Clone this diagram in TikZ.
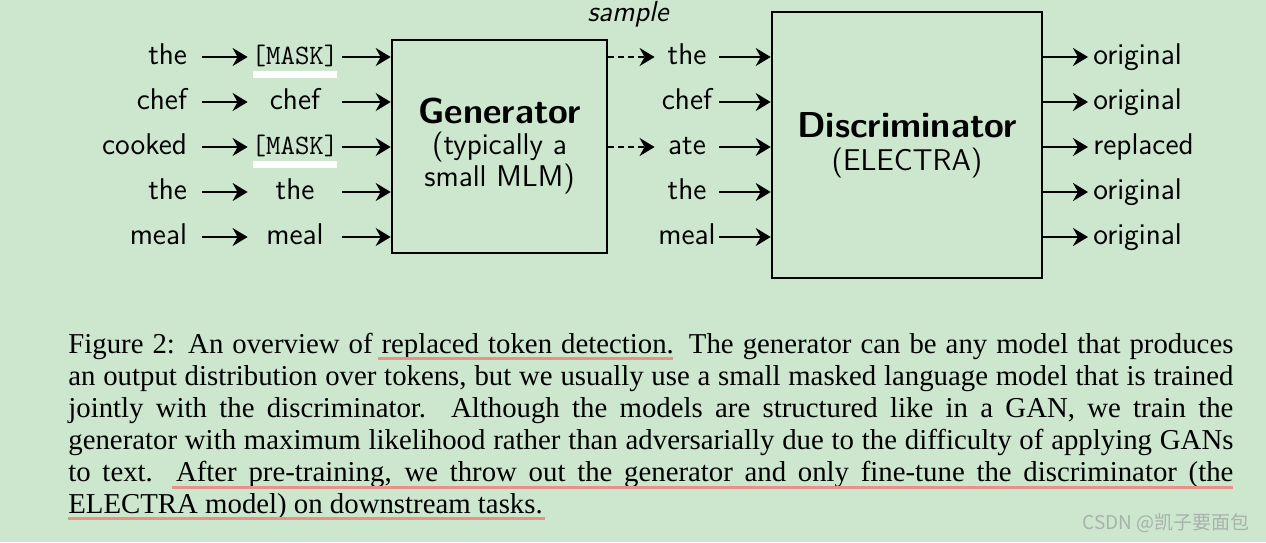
\documentclass[tikz,border=0pt]{standalone}
\usepackage{fontspec}
\usetikzlibrary{arrows.meta,positioning}
\newfontfamily\captionfont{Liberation Serif}
\newfontfamily\markfont{Noto Sans CJK SC}
\definecolor{pagegreen}{RGB}{204,231,206}
\definecolor{markred}{RGB}{232,145,138}
\definecolor{wmgray}{RGB}{168,178,170}
\newcommand\masktok{{\ttfamily\fontsize{14}{16}\selectfont[MASK]}}
\tikzset{
    tok/.style={font=\sffamily\fontsize{15}{18}\selectfont, inner sep=0pt, text height=10.5pt, text depth=3pt},
    intok/.style={tok, text width=45pt, align=right, inner xsep=7.5pt},
    midtok/.style={tok, minimum width=47pt, align=center},
    gentok/.style={tok, minimum width=32pt, align=center},
    outtok/.style={tok, anchor=west, inner xsep=2.5pt},
    model/.style={draw, line width=1.3pt, font=\sffamily\fontsize{15}{13.5}\selectfont, align=center},
    feed/.style={-{Stealth[length=7.5pt,width=9pt,inset=2.5pt]}, line width=1.4pt},
    samp/.style={feed, dash pattern=on 3pt off 2pt},
    capline/.style={font=\captionfont\fontsize{14.4}{16}\selectfont, anchor=base west, inner sep=0pt},
    hilite/.style={draw=markred, line width=1.5pt}
}
\begin{document}
\begin{tikzpicture}[x=0.5pt,y=-0.5pt]
    \useasboundingbox (0,0) rectangle (1266,542);
    \fill[pagegreen] (0,0) rectangle (1266,542);

    % the two models
    \node[model, minimum width=107.5pt, minimum height=106.5pt] (gen) at (499.5,146.5)
        {{\fontsize{18}{18}\selectfont\bfseries Generator}\\[2pt](typically a\\small MLM)};
    \node[model, minimum width=135pt, minimum height=133pt] (disc) at (907,145)
        {{\fontsize{18}{18}\selectfont\bfseries Discriminator}\\[3pt](ELECTRA)};

    % token rows
    \foreach \i/\a/\b/\c/\d in {1/the/\masktok/the/original, 2/chef/chef/chef/original,
        3/cooked/\masktok/ate/replaced, 4/the/the/the/original, 5/meal/meal/meal/original} {
        \pgfmathsetmacro\ry{12+45*\i}
        \node[intok] (in\i) at (142,\ry) {\a};
        \node[midtok] (mid\i) at (295,\ry) {\b};
        \node[gentok] (smp\i) at (687,\ry) {\c};
        \node[outtok] (out\i) at (1088,\ry) {\d};
        \draw[feed] (in\i) -- (mid\i);
        \draw[feed] (mid\i) -- (gen.west |- mid\i);
        \draw[feed] (smp\i) -- (disc.west |- smp\i);
        \draw[feed] (disc.east |- out\i) -- (out\i);
    }
    \draw[samp] (gen.east |- smp1) -- (smp1);
    \draw[samp] (gen.east |- smp3) -- (smp3);
    \node[font=\sffamily\itshape\fontsize{14.5}{18}\selectfont, anchor=base, inner sep=0pt] (samplbl) at (628,21) {sample};

    % white marks under the masked tokens
    \fill[white] ([xshift=2.5pt]mid1.south west) rectangle ([xshift=-2.5pt,yshift=-3.5pt]mid1.south east);
    \fill[white] ([xshift=2.5pt]mid3.south west) rectangle ([xshift=-2.5pt,yshift=-3.5pt]mid3.south east);

    % caption
    \node[capline] (cap1) at (68,353) {\makebox[582.5pt][s]{Figure 2: An overview of replaced token detection. The generator can be any model that produces}};
    \node[capline] (cap2) at (68,385) {\makebox[582.5pt][s]{an output distribution over tokens, but we usually use a small masked language model that is trained}};
    \node[capline] (cap3) at (68,417) {\makebox[582.5pt][s]{jointly with the discriminator. Although the models are structured like in a GAN, we train the}};
    \node[capline] (cap4) at (68,449) {\makebox[582.5pt][s]{generator with maximum likelihood rather than adversarially due to the difficulty of applying GANs}};
    \node[capline] (cap5) at (68,481) {\makebox[582.5pt][s]{to text. After pre-training, we throw out the generator and only fine-tune the discriminator (the}};
    \node[capline] (cap6) at (68,513) {ELECTRA model) on downstream tasks.};
    \draw[hilite] (378,358) -- (673,358);
    \draw[hilite] (172,487) -- (1233,487);
    \draw[hilite] (68,518) -- (545,518);

    \node[font=\markfont\fontsize{9.5}{11}\selectfont, text=wmgray, anchor=base east, inner sep=0pt] (wm) at (1250,529) {CSDN @凯子要面包};
\end{tikzpicture}
\end{document}
